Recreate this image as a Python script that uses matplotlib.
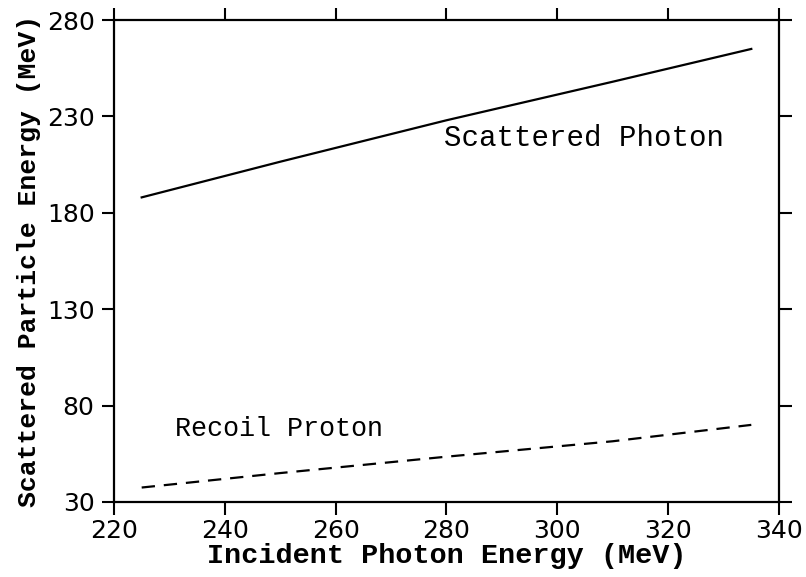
import matplotlib
matplotlib.use("Agg")
import matplotlib.pyplot as plt

# incident photon energy (MeV)
e_incident = [225, 250, 280, 310, 335]
# scattered photon and recoil proton energies (MeV)
e_photon = [188, 206.5, 228, 248, 265]
e_proton = [37.5, 45, 53.5, 61.5, 70]

x_ticks = [220, 240, 260, 280, 300, 320, 340]
y_ticks = [30, 80, 130, 180, 230, 280]

fig = plt.figure(figsize=(8.06, 5.77), dpi=100)
ax = fig.add_axes([0.1414, 0.130, 0.8251, 0.8353])

ax.plot(e_incident, e_photon, color='black', lw=1.6)
ax.plot(e_incident, e_proton, color='black', lw=1.6, ls=(0, (6, 4)))

ax.set_xlim(220, 340)
ax.set_ylim(30, 280)
ax.set_xticks(x_ticks)
ax.set_yticks(y_ticks)

ax.tick_params(direction='out', length=9, width=1.5, labelsize=18,
               top=True, right=True, labeltop=False, labelright=False)
ax.tick_params(axis='x', pad=3)
ax.tick_params(axis='y', pad=5)
for sp in ax.spines.values():
    sp.set_linewidth(1.6)

lab_font = dict(family='Liberation Mono', fontsize=20.5, fontweight='bold')
ax.set_xlabel('Incident Photon Energy (MeV)', labelpad=0, **lab_font)
ax.set_ylabel('Scattered Particle Energy (MeV)', labelpad=4,
              family='Liberation Mono', fontsize=19, fontweight='bold')

ax.text(279.6, 219, 'Scattered Photon', family='Liberation Mono',
        fontsize=21, ha='left', va='center')
ax.text(231, 68, 'Recoil Proton', family='Liberation Mono',
        fontsize=19.3, ha='left', va='center')

fig.savefig('out.png', dpi=100)
